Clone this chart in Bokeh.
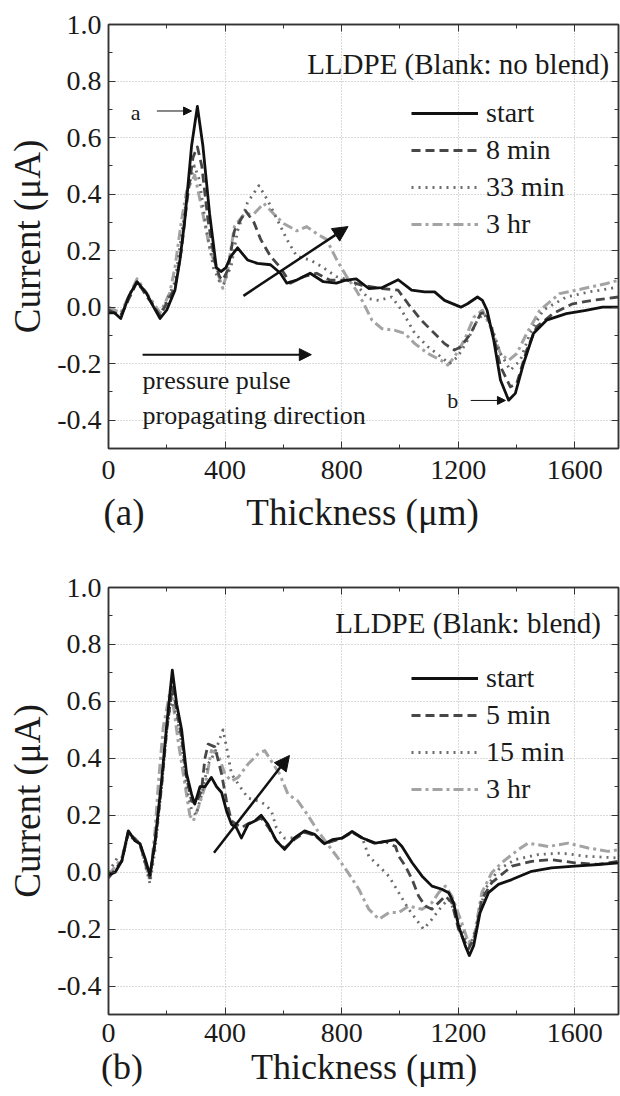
from bokeh.plotting import figure
from bokeh.models import (Range1d, FixedTicker, PrintfTickFormatter, LinearAxis, Legend,
                          LegendItem, Label, Arrow, NormalHead, CustomJSTickFormatter)
from bokeh.layouts import column
from bokeh.embed import file_html
from bokeh.resources import INLINE

# ---------------- data: panel (a) ----------------
a_start_x = [0, 20, 42, 70, 98, 130, 155, 177, 200, 228, 245, 262, 285, 305, 324, 347, 370, 386, 403, 420,
             443, 477, 511, 556, 590, 612, 646, 692, 737, 782, 816, 850, 893, 938, 994, 1040, 1085, 1119,
             1153, 1209, 1232, 1266, 1283, 1299, 1322, 1345, 1373, 1396, 1424, 1458, 1503, 1571, 1638, 1695, 1750]
a_start_y = [-0.02, -0.02, -0.04, 0.04, 0.09, 0.05, 0.0, -0.04, -0.01, 0.06, 0.167, 0.31, 0.57, 0.71, 0.57,
             0.33, 0.14, 0.126, 0.14, 0.18, 0.21, 0.167, 0.155, 0.15, 0.12, 0.085, 0.096, 0.12, 0.09, 0.085,
             0.096, 0.1, 0.066, 0.069, 0.097, 0.06, 0.054, 0.054, 0.024, 0.0, 0.012, 0.036, 0.024, -0.011,
             -0.117, -0.258, -0.329, -0.305, -0.2, -0.093, -0.046, -0.023, -0.011, 0.0, 0.0]

a_8min_x = [0, 42, 98, 177, 228, 250, 270, 290, 305, 320, 341, 365, 381, 392, 409, 432, 454, 471, 499, 522,
            556, 590, 624, 669, 714, 759, 816, 870, 938, 994, 1028, 1073, 1119, 1153, 1187, 1209, 1243, 1277,
            1294, 1317, 1345, 1379, 1401, 1435, 1469, 1525, 1593, 1661, 1750]
a_8min_y = [-0.01, -0.03, 0.09, -0.03, 0.07, 0.2, 0.38, 0.53, 0.567, 0.5, 0.31, 0.16, 0.108, 0.096, 0.13,
            0.27, 0.31, 0.34, 0.3, 0.24, 0.18, 0.14, 0.085, 0.108, 0.12, 0.096, 0.096, 0.077, 0.066, 0.06,
            0.012, -0.046, -0.093, -0.129, -0.152, -0.14, -0.093, -0.023, -0.017, -0.082, -0.21, -0.282,
            -0.27, -0.152, -0.07, -0.023, 0.012, 0.024, 0.036]

a_33min_x = [0, 42, 98, 177, 228, 250, 272, 295, 312, 335, 360, 381, 395, 409, 420, 443, 477, 516, 545, 579,
             612, 646, 692, 737, 782, 827, 847, 893, 927, 972, 1006, 1051, 1096, 1141, 1170, 1198, 1232, 1266,
             1288, 1311, 1345, 1379, 1413, 1446, 1491, 1571, 1650, 1750]
a_33min_y = [-0.01, -0.03, 0.09, -0.03, 0.09, 0.25, 0.42, 0.5, 0.45, 0.28, 0.14, 0.09, 0.08, 0.12, 0.14,
             0.27, 0.37, 0.43, 0.38, 0.31, 0.24, 0.18, 0.167, 0.14, 0.108, 0.096, 0.083, 0.03, 0.024, 0.036,
             -0.011, -0.093, -0.14, -0.176, -0.2, -0.176, -0.117, -0.046, -0.023, -0.058, -0.164, -0.223,
             -0.188, -0.093, -0.011, 0.036, 0.054, 0.071]

a_3hr_x = [0, 42, 98, 177, 210, 228, 251, 268, 296, 319, 347, 375, 392, 409, 432, 466, 499, 533, 567, 601,
           646, 680, 714, 748, 782, 816, 850, 870, 904, 938, 983, 1017, 1051, 1096, 1141, 1164, 1187, 1221,
           1254, 1283, 1311, 1345, 1373, 1401, 1435, 1480, 1548, 1627, 1706, 1750]
a_3hr_y = [0.0, -0.02, 0.1, -0.02, 0.05, 0.14, 0.31, 0.41, 0.467, 0.355, 0.21, 0.12, 0.067, 0.13, 0.285,
           0.33, 0.33, 0.367, 0.33, 0.296, 0.27, 0.285, 0.26, 0.24, 0.17, 0.11, 0.06, 0.024, -0.046, -0.076,
           -0.082, -0.093, -0.129, -0.164, -0.188, -0.205, -0.176, -0.117, -0.035, -0.011, -0.07, -0.164,
           -0.188, -0.164, -0.093, -0.011, 0.048, 0.065, 0.083, 0.095]

# ---------------- data: panel (b) ----------------
b_start_x = [0, 23, 46, 68, 91, 108, 125, 142, 160, 182, 200, 219, 234, 251, 268, 285, 296, 314, 331, 353,
             371, 388, 405, 422, 439, 456, 479, 502, 524, 547, 576, 604, 638, 673, 707, 741, 768, 802, 836,
             871, 916, 950, 985, 1007, 1042, 1076, 1110, 1144, 1167, 1184, 1201, 1224, 1238, 1253, 1275, 1304,
             1338, 1384, 1452, 1520, 1600, 1680, 1750]
b_start_y = [-0.01, 0.0, 0.04, 0.145, 0.11, 0.1, 0.05, -0.01, 0.11, 0.32, 0.52, 0.71, 0.59, 0.5, 0.345,
             0.274, 0.239, 0.3, 0.3, 0.333, 0.3, 0.28, 0.215, 0.168, 0.156, 0.12, 0.168, 0.18, 0.2, 0.168,
             0.11, 0.08, 0.12, 0.145, 0.133, 0.1, 0.114, 0.12, 0.143, 0.12, 0.102, 0.108, 0.114, 0.09, 0.033,
             -0.014, -0.049, -0.06, -0.072, -0.107, -0.188, -0.258, -0.293, -0.258, -0.142, -0.072, -0.043,
             -0.026, 0.003, 0.015, 0.021, 0.027, 0.033]

b_5min_x = [0, 46, 68, 108, 142, 160, 182, 200, 219, 234, 251, 268, 285, 300, 319, 331, 342, 365, 388, 405,
            422, 456, 479, 502, 524, 547, 576, 604, 638, 673, 707, 741, 802, 836, 871, 916, 950, 985, 996,
            1019, 1042, 1064, 1087, 1110, 1133, 1156, 1178, 1201, 1235, 1258, 1281, 1315, 1384, 1452, 1520,
            1600, 1680, 1750]
b_5min_y = [-0.02, 0.04, 0.14, 0.1, -0.02, 0.1, 0.3, 0.5, 0.65, 0.57, 0.47, 0.33, 0.25, 0.24, 0.286, 0.4,
            0.45, 0.44, 0.345, 0.25, 0.18, 0.156, 0.17, 0.18, 0.19, 0.16, 0.11, 0.085, 0.115, 0.14, 0.13,
            0.1, 0.12, 0.14, 0.12, 0.1, 0.108, 0.09, 0.056, 0.021, -0.026, -0.084, -0.119, -0.13, -0.107,
            -0.084, -0.107, -0.2, -0.27, -0.223, -0.095, -0.037, 0.021, 0.038, 0.044, 0.033, 0.027, 0.038]

b_15min_x = [0, 30, 46, 68, 108, 142, 160, 182, 200, 215, 234, 251, 268, 285, 300, 319, 342, 365, 393, 405,
             422, 445, 479, 513, 536, 559, 576, 604, 638, 673, 707, 741, 802, 836, 871, 893, 928, 962, 996,
             1030, 1064, 1081, 1110, 1144, 1167, 1190, 1224, 1241, 1264, 1292, 1338, 1395, 1475, 1555, 1634,
             1750]
b_15min_y = [0.0, 0.05, 0.05, 0.13, 0.1, -0.04, 0.08, 0.3, 0.5, 0.6, 0.55, 0.45, 0.3, 0.22, 0.2, 0.27, 0.38,
             0.42, 0.5, 0.44, 0.345, 0.31, 0.26, 0.25, 0.239, 0.215, 0.156, 0.12, 0.12, 0.14, 0.13, 0.1, 0.12,
             0.14, 0.12, 0.056, 0.021, -0.014, -0.072, -0.13, -0.177, -0.2, -0.165, -0.119, -0.095, -0.142,
             -0.235, -0.258, -0.188, -0.06, 0.009, 0.044, 0.062, 0.067, 0.056, 0.05]

b_3hr_x = [0, 46, 68, 108, 142, 160, 171, 188, 214, 239, 262, 279, 291, 308, 331, 353, 376, 399, 422, 445,
           479, 513, 536, 559, 587, 616, 650, 684, 718, 752, 787, 821, 859, 893, 928, 962, 996, 1030, 1076,
           1110, 1133, 1156, 1178, 1212, 1235, 1253, 1281, 1315, 1349, 1406, 1440, 1509, 1577, 1646, 1714,
           1750]
b_3hr_y = [-0.01, 0.05, 0.14, 0.1, -0.03, 0.15, 0.31, 0.51, 0.65, 0.46, 0.31, 0.2, 0.18, 0.227, 0.3, 0.427,
           0.415, 0.345, 0.32, 0.333, 0.38, 0.415, 0.427, 0.39, 0.345, 0.274, 0.25, 0.2, 0.145, 0.098, 0.05,
           0.0, -0.06, -0.13, -0.165, -0.142, -0.142, -0.119, -0.13, -0.107, -0.072, -0.049, -0.084, -0.177,
           -0.247, -0.235, -0.072, -0.002, 0.033, 0.079, 0.102, 0.09, 0.102, 0.085, 0.073, 0.079]

x_ticks = [0, 400, 800, 1200, 1600]
x_minor = [200, 600, 1000, 1400]
y_ticks = [-0.4, -0.2, 0.0, 0.2, 0.4, 0.6, 0.8, 1.0]
y_minor = [-0.5, -0.3, -0.1, 0.1, 0.3, 0.5, 0.7, 0.9]

labels_a = ["start", "8 min", "33 min", "3 hr"]
labels_b = ["start", "5 min", "15 min", "3 hr"]
title_a = "LLDPE (Blank: no blend)"
title_b = "LLDPE (Blank: blend)"
x_title = "Thickness (\u03bcm)"
y_title = "Current (\u03bcA)"

FONT = "Liberation Serif"
COLORS = ["#111111", "#474747", "#6c6c6c", "#a3a3a3"]
DASHES = ["solid", "9 5", "2 5", "10 4 3 4"]
WIDTHS = [2.8, 2.8, 2.8, 3.0]
AX = "#333333"


def style_ticks(ax):
    ax.axis_line_color = AX
    ax.axis_line_width = 1.5
    ax.major_tick_line_color = AX
    ax.minor_tick_line_color = AX
    ax.major_tick_in = 7
    ax.major_tick_out = 0
    ax.minor_tick_in = 4
    ax.minor_tick_out = 0


def make_fig(height, border_top, border_bottom, border_left, series, labels, title, title_xy,
             panel_tag, tag_x, thick_x, legend_loc, tick_standoff, title_standoff, title_size):
    p = figure(width=620, height=height, output_backend="svg", toolbar_location=None,
               x_range=Range1d(0, 1750), y_range=Range1d(-0.5, 1.0),
               min_border_left=border_left, min_border_right=2,
               min_border_top=border_top, min_border_bottom=border_bottom)
    p.background_fill_color = "white"
    p.border_fill_color = "white"
    p.outline_line_color = AX
    p.outline_line_width = 1.5

    p.xaxis.ticker = FixedTicker(ticks=x_ticks, minor_ticks=x_minor)
    p.yaxis.ticker = FixedTicker(ticks=y_ticks, minor_ticks=y_minor)
    p.yaxis.formatter = PrintfTickFormatter(format="%.1f")
    for ax in (p.xaxis[0], p.yaxis[0]):
        style_ticks(ax)
        ax.major_label_text_font = FONT
        ax.major_label_text_font_size = "28px"
        ax.major_label_text_color = "#1a1a1a"
        ax.axis_label_text_font = FONT
        ax.axis_label_text_font_size = "37px"
        ax.axis_label_text_font_style = "normal"
        ax.axis_label_text_color = "#1a1a1a"
    p.xaxis.major_label_standoff = tick_standoff
    p.yaxis.major_label_standoff = 7
    p.yaxis.axis_label = y_title
    p.yaxis.axis_label_standoff = 6

    # second row under the x axis: panel tag and axis title on one line
    title_ax = LinearAxis(ticker=FixedTicker(ticks=[tag_x, thick_x]),
                          major_label_overrides={tag_x: panel_tag, thick_x: x_title})
    title_ax.axis_line_alpha = 0
    title_ax.major_tick_line_alpha = 0
    title_ax.minor_tick_line_alpha = 0
    title_ax.major_tick_out = 0
    title_ax.major_tick_in = 0
    title_ax.minor_tick_out = 0
    title_ax.minor_tick_in = 0
    title_ax.major_label_standoff = title_standoff
    title_ax.major_label_text_font = FONT
    title_ax.major_label_text_font_size = title_size
    title_ax.major_label_text_color = "#1a1a1a"
    p.add_layout(title_ax, "below")

    # mirror axes (ticks only)
    blank = CustomJSTickFormatter(code="return ''")
    top_ax = LinearAxis(ticker=FixedTicker(ticks=x_ticks, minor_ticks=x_minor), formatter=blank)
    right_ax = LinearAxis(ticker=FixedTicker(ticks=y_ticks, minor_ticks=y_minor), formatter=blank)
    for ax in (top_ax, right_ax):
        style_ticks(ax)
        ax.major_label_text_font_size = "10px"
        ax.major_label_standoff = 0
    p.add_layout(top_ax, "above")
    p.add_layout(right_ax, "right")

    p.xgrid.ticker = FixedTicker(ticks=x_ticks)
    p.ygrid.ticker = FixedTicker(ticks=y_ticks)
    for g in (p.xgrid[0], p.ygrid[0]):
        g.grid_line_color = "#b5b5b5"
        g.grid_line_dash = "1 2"
        g.grid_line_width = 1

    renderers = []
    for i, (xs, ys) in enumerate(series):
        r = p.line(xs, ys, line_color=COLORS[i], line_width=WIDTHS[i], line_dash=DASHES[i],
                   line_join="round")
        renderers.append(r)
    p.renderers = [renderers[3], renderers[2], renderers[1], renderers[0]]

    legend = Legend(items=[LegendItem(label=labels[i], renderers=[renderers[i]]) for i in range(4)],
                    location=legend_loc, orientation="vertical",
                    label_text_font=FONT, label_text_font_size="28px", label_text_color="#1a1a1a",
                    glyph_width=67, glyph_height=30, label_height=30, label_standoff=8,
                    spacing=5, padding=0, margin=0,
                    border_line_alpha=0, background_fill_alpha=0)
    p.add_layout(legend, "center")

    p.add_layout(Label(x=title_xy[0], y=title_xy[1], text=title, text_font=FONT,
                       text_font_size="29px", text_align="right", text_baseline="middle",
                       text_color="#1a1a1a"))
    return p


p1 = make_fig(548, 24, 100, 104,
              [(a_start_x, a_start_y), (a_8min_x, a_8min_y), (a_33min_x, a_33min_y), (a_3hr_x, a_3hr_y)],
              labels_a, title_a, (1718, 0.86), "(a)", 53, 872, (303, 208), 12, 10, "37px")

# annotations (a)
p1.add_layout(Label(x=93, y=0.69, text="a", text_font=FONT, text_font_size="22px",
                    text_align="center", text_baseline="middle", text_color="#1a1a1a"))
p1.add_layout(Arrow(x_start=166, y_start=0.694, x_end=285, y_end=0.694, line_width=1, line_color="#111",
                    end=NormalHead(size=8, fill_color="#111", line_color="#111")))
p1.add_layout(Label(x=1181, y=-0.33, text="b", text_font=FONT, text_font_size="22px",
                    text_align="center", text_baseline="middle", text_color="#1a1a1a"))
p1.add_layout(Arrow(x_start=1243, y_start=-0.33, x_end=1362, y_end=-0.33, line_width=1, line_color="#111",
                    end=NormalHead(size=8, fill_color="#111", line_color="#111")))
p1.add_layout(Arrow(x_start=117, y_start=-0.168, x_end=696, y_end=-0.168, line_width=2, line_color="#111",
                    end=NormalHead(size=12, fill_color="#111", line_color="#111")))
p1.add_layout(Label(x=117, y=-0.259, text="pressure pulse", text_font=FONT, text_font_size="26px",
                    text_align="left", text_baseline="middle", text_color="#1a1a1a"))
p1.add_layout(Label(x=117, y=-0.382, text="propagating direction", text_font=FONT, text_font_size="26px",
                    text_align="left", text_baseline="middle", text_color="#1a1a1a"))
p1.add_layout(Arrow(x_start=463, y_start=0.04, x_end=822, y_end=0.285, line_width=2.5, line_color="#111",
                    end=NormalHead(size=15, fill_color="#111", line_color="#111")))

p2 = make_fig(548, 39, 82, 108,
              [(b_start_x, b_start_y), (b_5min_x, b_5min_y), (b_15min_x, b_15min_y), (b_3hr_x, b_3hr_y)],
              labels_b, title_b, (1690, 0.877), "(b)", 46, 877, (303, 209), 9, 2, "36px")
p2.add_layout(Arrow(x_start=362, y_start=0.068, x_end=621, y_end=0.41, line_width=2.5, line_color="#111",
                    end=NormalHead(size=15, fill_color="#111", line_color="#111")))

layout = column(p1, p2)
open("out.html", "w").write(file_html(layout, INLINE))
